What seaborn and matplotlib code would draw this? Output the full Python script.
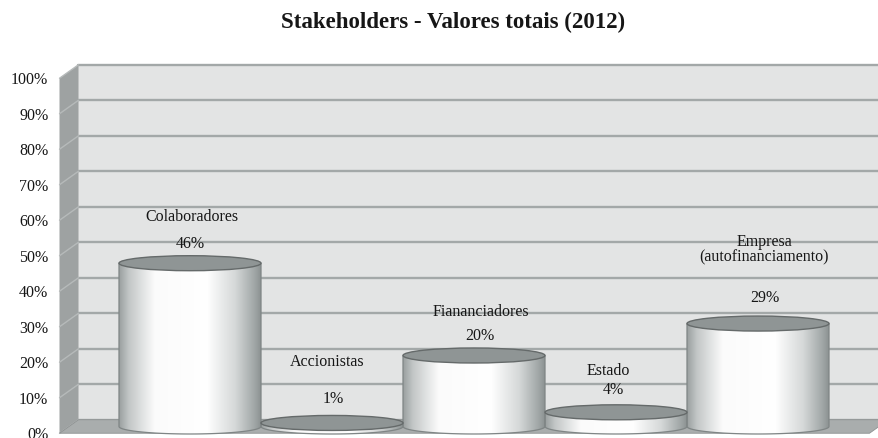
import numpy as np
import matplotlib
matplotlib.use("Agg")
import matplotlib.pyplot as plt
import seaborn as sns
from matplotlib.patches import Ellipse, Polygon, PathPatch
from matplotlib.path import Path
from matplotlib.colors import LinearSegmentedColormap

# ── Data ──────────────────────────────────────────────
categories = ["Colaboradores", "Accionistas", "Fiananciadores", "Estado", "Empresa"]
label_names = ["Colaboradores", "Accionistas", "Fiananciadores", "Estado",
               "Empresa\n(autofinanciamento)"]
values = [46, 1, 20, 4, 29]
y_ticks = list(range(0, 101, 10))
y_tick_labels = [f"{t}%" for t in y_ticks]
title = "Stakeholders - Valores totais (2012)"

# label offsets above each cylinder top, in pixels (dx, dy)
name_offsets = [(2, 46), (-5, 61), (7, 43), (-8, 41), (6, 74)]
value_offsets = [(0, 19), (1, 24), (6, 19), (-3, 22), (7, 26)]

# ── Style ─────────────────────────────────────────────
sns.set_style("white")
plt.rcParams["font.family"] = ["Liberation Serif", "DejaVu Serif"]

W, H = 879, 438
DX, DY = 19, 13.5          # depth of the 3D box, pixels
PX_PCT = 3.55              # pixels per percentage point
CAT_PX = 142               # pixels per category
FIRST_C = 190              # x pixel of first cylinder centre
MID_LEFT = 69
ZERO_MID = 426.5           # y pixel (from top) of 0% on mid-depth plane
AX_W = 810
Y_LO = -5

WALL = "#e3e4e4"
GRID = "#a3a8a8"
SIDE = "#9ea2a2"
FLOOR = "#a9adad"
TOP = "#8f9595"
EDGE = "#656a6a"
TXT = "#161616"

fig = plt.figure(figsize=(W / 100, H / 100), dpi=100)


def frac(left, bottom_from_top, width, height):
    return [left / W, (H - bottom_from_top) / H, width / W, height / H]


# back wall
ax_back = fig.add_axes(frac(MID_LEFT + DX / 2, ZERO_MID - DY / 2, AX_W, 100 * PX_PCT), zorder=0)
ax_back.set_facecolor(WALL)
ax_back.set_ylim(0, 100)
ax_back.set_xlim(0, 1)
ax_back.set_yticks(y_ticks)
ax_back.set_xticks([])
ax_back.tick_params(left=False, labelleft=False)
ax_back.yaxis.grid(True, color=GRID, linewidth=1.7, clip_on=False)
for s in ax_back.spines.values():
    s.set_visible(False)

# mid-depth plane with the cylinders
ax = fig.add_axes(frac(MID_LEFT, ZERO_MID - Y_LO * PX_PCT, AX_W, (100 - Y_LO) * PX_PCT), zorder=2)
ax.patch.set_alpha(0)
sns.barplot(x=categories, y=values, order=categories, width=1.0, color="white",
            edgecolor="none", ax=ax, zorder=1)

cyl_cmap = LinearSegmentedColormap.from_list(
    "cyl", [(0, "#9aa0a0"), (0.07, "#c3c7c7"), (0.25, "#fbfbfb"), (0.62, "#ffffff"),
            (0.82, "#d5d8d8"), (0.95, "#a3a9a9"), (1, "#8d9393")])
grad = np.linspace(0, 1, 256)[None, :]
eh = 15 / PX_PCT  # ellipse height in data units

for bar in ax.patches[:len(values)]:
    x0, w, h = bar.get_x(), bar.get_width(), bar.get_height()
    cx = x0 + w / 2
    th = np.linspace(np.pi, 2 * np.pi, 60)
    arc = np.column_stack([cx + w / 2 * np.cos(th), eh / 2 * np.sin(th)])
    verts = np.vstack([[x0, h], [x0, 0], arc, [x0 + w, h], [x0, h]])
    codes = [Path.MOVETO] + [Path.LINETO] * (len(verts) - 2) + [Path.CLOSEPOLY]
    body = PathPatch(Path(verts, codes), facecolor="none", edgecolor="#7f8585",
                     linewidth=0.9, zorder=3)
    ax.add_patch(body)
    im = ax.imshow(grad, cmap=cyl_cmap, extent=(x0, x0 + w, -eh / 2, h),
                   aspect="auto", interpolation="bicubic", zorder=2)
    im.set_clip_path(body)
    ax.add_patch(Ellipse((cx, h), w, eh, facecolor=TOP, edgecolor=EDGE,
                         linewidth=1.0, zorder=4))

for i, (name, v) in enumerate(zip(label_names, values)):
    ax.annotate(name, xy=(i, v), xytext=name_offsets[i], textcoords="offset pixels",
                ha="center", va="center", fontsize=11.5, color=TXT, linespacing=1.0)
    ax.annotate(f"{v}%", xy=(i, v), xytext=value_offsets[i], textcoords="offset pixels",
                ha="center", va="center", fontsize=11.5, color=TXT)

ax.set_xlim((MID_LEFT - FIRST_C) / CAT_PX, (MID_LEFT + AX_W - FIRST_C) / CAT_PX)
ax.set_ylim(Y_LO, 100)
ax.set_axis_off()

# front plane carries the tick labels
ax_front = fig.add_axes(frac(MID_LEFT - DX / 2, ZERO_MID + DY / 2, AX_W, 100 * PX_PCT), zorder=3)
ax_front.patch.set_alpha(0)
ax_front.set_ylim(0, 100)
ax_front.set_yticks(y_ticks)
ax_front.set_yticklabels(y_tick_labels, fontsize=11.5, color=TXT)
ax_front.set_xticks([])
ax_front.tick_params(axis="y", length=0, pad=8)
for s in ax_front.spines.values():
    s.set_visible(False)

# side wall and floor joining back and front planes
bb, fb = ax_back.get_position(), ax_front.get_position()
side = Polygon([(bb.x0, bb.y0), (bb.x0, bb.y1), (fb.x0, fb.y1), (fb.x0, fb.y0)],
               closed=True, transform=fig.transFigure, facecolor=SIDE, edgecolor="none", zorder=1)
fig.add_artist(side)
for t in y_ticks:
    yb = bb.y0 + (bb.y1 - bb.y0) * t / 100
    yf = fb.y0 + (fb.y1 - fb.y0) * t / 100
    fig.add_artist(plt.Line2D([bb.x0, fb.x0], [yb, yf], transform=fig.transFigure,
                              color="#b6baba", linewidth=1.0, zorder=1))
floor = Polygon([(bb.x0, bb.y0), (bb.x1, bb.y0), (fb.x1, fb.y0), (fb.x0, fb.y0)],
                closed=True, transform=fig.transFigure, facecolor=FLOOR,
                edgecolor="#8e9292", linewidth=0.6, zorder=1)
fig.add_artist(floor)

fig.suptitle(title, x=453 / W, y=1 - 22 / H, va="center", fontsize=16.5,
             fontweight="bold", color=TXT)

fig.savefig("out.png", dpi=100)
